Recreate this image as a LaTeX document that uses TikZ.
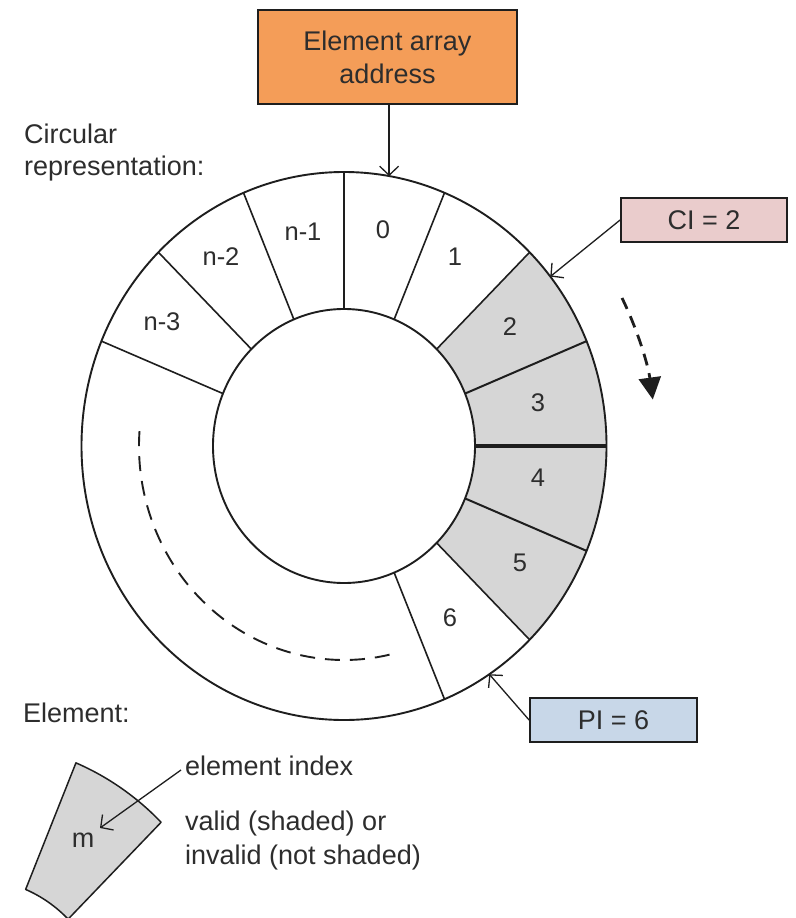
\documentclass[tikz,border=0pt]{standalone}
\usepackage{fontspec}
\setmainfont{Liberation Sans}
\usetikzlibrary{calc,arrows.meta}

\definecolor{ink}{RGB}{30,30,30}
\definecolor{txt}{RGB}{45,45,45}
\definecolor{addrfill}{RGB}{244,157,88}
\definecolor{cifill}{RGB}{234,204,204}
\definecolor{pifill}{RGB}{200,215,232}
\definecolor{validfill}{RGB}{214,214,214}

% one element of the ring (outer 262.5 x 274, inner 131 x 137), from angle #2 to #3
\newcommand{\ringpiece}[3]{%
  \path[#1] (#2:262.5 and 274) arc[start angle=#2,end angle=#3,x radius=262.5,y radius=274]
    -- (#3:131 and 137) arc[start angle=#3,end angle=#2,x radius=131,y radius=137] -- cycle;}

\tikzset{
  bigtext/.style={font=\fontsize{27}{33}\selectfont, text=txt},
  numtext/.style={font=\fontsize{25.5}{30}\selectfont, text=txt},
  labelbox/.style={draw=ink, line width=1.8pt, bigtext, align=center, inner sep=0pt},
  divider/.style={draw=ink, line width=1.6pt},
  rim/.style={draw=ink, line width=1.9pt},
  pointer/.style={draw=ink, line width=1.3pt, -{Straight Barb[length=9pt,width=19pt]}},
  gapdash/.style={draw=ink, line width=1.9pt, dash pattern=on 15pt off 10pt},
  flowarrow/.style={draw=ink, line width=2.8pt, dash pattern=on 12pt off 8pt,
    -{Triangle[length=22pt,width=22pt]}},
}

\begin{document}
\begin{tikzpicture}[x=1pt,y=1pt]
\useasboundingbox (0,0) rectangle (795,-918);
\fill[white] (0,0) rectangle (795,-918);

% ---- ring ----
\begin{scope}[shift={(344,-446)}]
  % valid elements 2..5
  \ringpiece{fill=validfill}{45}{-45}
  % element borders
  \foreach \a in {157.5,135,112.5,90,67.5,45,-45,-67.5}
    \draw[divider] (\a:131 and 137) -- (\a:262.5 and 274);
  \foreach \a in {22.5,-22.5}
    \draw[divider, line width=2pt] (\a:131 and 137) -- (\a:262.5 and 274);
  \draw[divider, line width=3.5pt] (0:131 and 137) -- (0:262.5 and 274);
  % rims
  \draw[rim] (0,0) ellipse[x radius=262.5, y radius=274];
  \draw[rim] (0,0) ellipse[x radius=131, y radius=137];
  % remaining elements
  \draw[gapdash] (176:205 and 214) arc[start angle=176,end angle=284,x radius=205,y radius=214];
  % direction of consumption
  \draw[flowarrow] (27:312 and 326) arc[start angle=27,end angle=8.2,x radius=312,y radius=326];
  % pointer targets
  \coordinate (addrtip) at (80.1:262.5 and 274);
  \coordinate (citip) at (38.2:262.5 and 274);
  \coordinate (pitip) at (-56.4:262.5 and 274);
\end{scope}

% element indices
\node[numtext] (e0) at (383,-230) {0};
\node[numtext] (e1) at (455,-257) {1};
\node[numtext] (e2) at (510,-327) {2};
\node[numtext] (e3) at (538,-403) {3};
\node[numtext] (e4) at (538,-478) {4};
\node[numtext] (e5) at (520,-563) {5};
\node[numtext] (e6) at (450,-618) {6};
\node[numtext] (en1) at (303,-232) {n-1};
\node[numtext] (en2) at (221,-257) {n-2};
\node[numtext] (en3) at (162,-322) {n-3};

% boxes
\node[labelbox, fill=addrfill, minimum width=259, minimum height=94] (addr) at (387.5,-57) {Element array\\address};
\node[labelbox, fill=cifill, minimum width=166, minimum height=44] (ci) at (704,-220) {CI = 2};
\node[labelbox, fill=pifill, minimum width=167, minimum height=44] (pi) at (613.5,-720) {PI = 6};

\draw[pointer] (addr.south -| addrtip) -- (addrtip);
\draw[pointer] (ci.west) -- (citip);
\draw[pointer] (pi.west) -- (pitip);

% captions
\node[bigtext, anchor=base west, inner sep=0pt] (cap1) at (24,-143) {Circular};
\node[bigtext, anchor=base west, inner sep=0pt] (cap2) at (24,-175) {representation:};
\node[bigtext, anchor=base west, inner sep=0pt] (cap3) at (23,-722) {Element:};

% legend element
\begin{scope}[shift={(-24.5,-1016)}]
  \ringpiece{fill=validfill, draw=ink, line width=1.5pt, line join=round}{67.5}{45}
\end{scope}
\node[bigtext, inner sep=0pt] (m) at (83,-840) {m};
\node[bigtext, anchor=base west, inner sep=0pt] (idx) at (185,-775) {element index};
\node[bigtext, anchor=base west, inner sep=0pt] (valid1) at (185,-830) {valid (shaded) or};
\node[bigtext, anchor=base west, inner sep=0pt] (valid2) at (185,-864) {invalid (not shaded)};
\coordinate (idxtip) at (100,-828);
\draw[pointer] ([xshift=-4pt,yshift=5pt]idx.base west) -- (idxtip);
\end{tikzpicture}
\end{document}
